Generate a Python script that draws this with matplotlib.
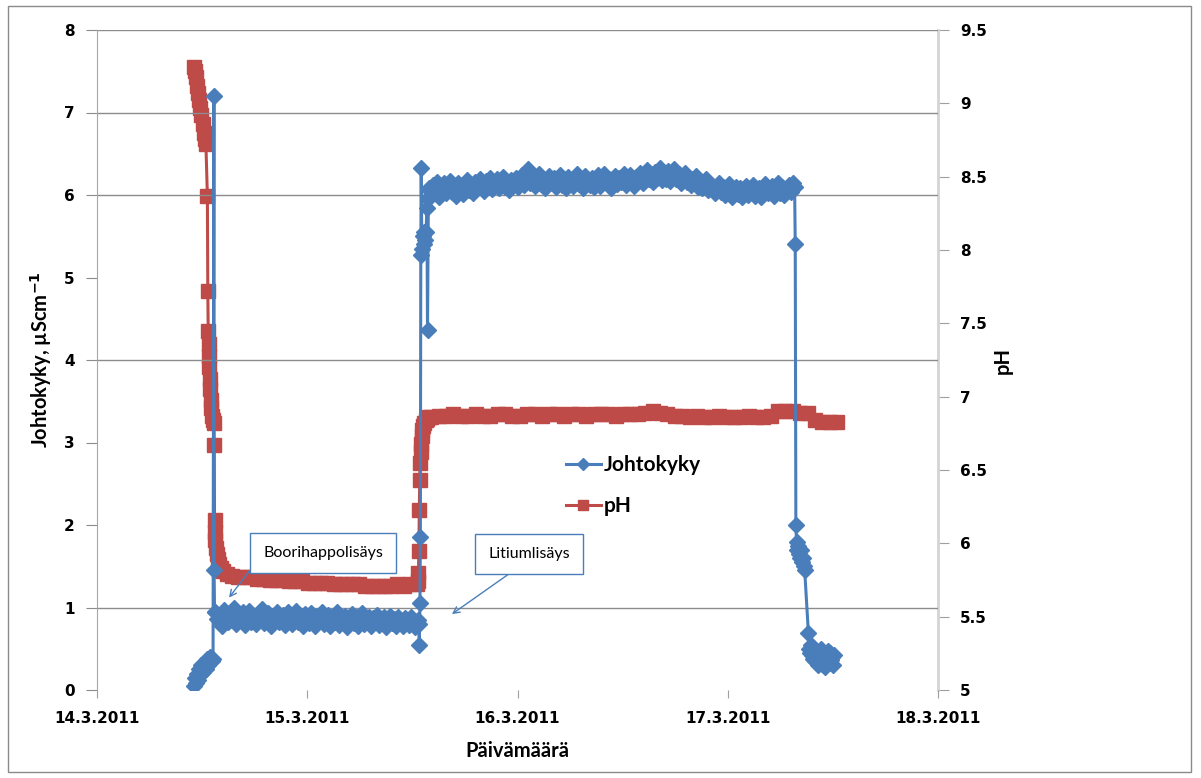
# Johtokyky ja pH ajan funktiona, boorihappo- ja litiumlisäys

import matplotlib
matplotlib.use('Agg')
import matplotlib.pyplot as plt
import matplotlib.dates as mdates
from matplotlib.ticker import FuncFormatter
from matplotlib.patches import Rectangle
import numpy as np
import pandas as pd

# Data (time = days since 14.3.2011 00:00)
start_date = pd.Timestamp('2011-03-14')

# Johtokyky, uS/cm
cond_start_t = [0.460, 0.466, 0.472, 0.477, 0.482, 0.487, 0.492, 0.497, 0.502, 0.507,
                0.512, 0.518, 0.524, 0.530, 0.538, 0.546, 0.552]
cond_start = [0.05, 0.15, 0.08, 0.2, 0.12, 0.25, 0.18, 0.3, 0.22, 0.28,
              0.34, 0.25, 0.38, 0.3, 0.4, 0.35, 0.38]
cond_boric_t = [0.556, 0.557, 0.559]
cond_boric = [7.2, 1.45, 0.95]
cond_low_range = (0.562, 1.525)
cond_low = [0.95, 0.86, 0.91, 0.78, 0.97, 0.88, 0.82, 0.93, 0.85, 0.99,
            0.8, 0.9, 0.87, 0.94, 0.79, 0.89, 0.96, 0.83, 0.88, 0.8,
            0.92, 0.86, 0.98, 0.81, 0.87, 0.93, 0.78, 0.9, 0.84, 0.95,
            0.82, 0.88, 0.91, 0.79, 0.94, 0.85, 0.8, 0.89, 0.96, 0.83,
            0.87, 0.78, 0.92, 0.86, 0.81, 0.93, 0.84, 0.77, 0.9, 0.85,
            0.95, 0.8, 0.86, 0.91, 0.78, 0.88, 0.83, 0.94, 0.79, 0.87,
            0.82, 0.9, 0.76, 0.85, 0.92, 0.81, 0.88, 0.78, 0.86, 0.93,
            0.8, 0.84, 0.89, 0.77, 0.87, 0.82, 0.91, 0.79, 0.85, 0.88,
            0.76, 0.83, 0.9, 0.81, 0.86, 0.78, 0.89, 0.82, 0.77, 0.87,
            0.84, 0.79, 0.88, 0.82, 0.76, 0.85]
cond_li_t = [1.530, 1.533, 1.536, 1.538, 1.540, 1.542, 1.545, 1.549, 1.553, 1.557,
             1.561, 1.565, 1.569, 1.572, 1.576, 1.580, 1.584]
cond_li = [0.8, 0.55, 1.05, 1.85, 5.27, 6.33, 5.35, 5.5, 5.4, 5.55,
           5.45, 5.55, 5.84, 4.36, 5.95, 6.08, 6.05]
cond_high_range = (1.588, 3.31)
cond_high = [6.0, 6.12, 6.05, 6.16, 5.98, 6.09, 6.14, 6.02, 6.1, 6.17,
             6.04, 6.11, 5.99, 6.15, 6.07, 6.01, 6.13, 6.18, 6.06, 6.1,
             6.03, 6.16, 6.09, 6.2, 6.11, 6.05, 6.17, 6.12, 6.21, 6.07,
             6.14, 6.19, 6.08, 6.16, 6.22, 6.1, 6.15, 6.06, 6.18, 6.13,
             6.21, 6.1, 6.17, 6.24, 6.12, 6.19, 6.32, 6.15, 6.22, 6.11,
             6.18, 6.25, 6.13, 6.2, 6.09, 6.16, 6.23, 6.14, 6.21, 6.1,
             6.17, 6.24, 6.12, 6.19, 6.08, 6.22, 6.15, 6.11, 6.2, 6.26,
             6.13, 6.18, 6.09, 6.23, 6.16, 6.12, 6.21, 6.1, 6.19, 6.24,
             6.11, 6.17, 6.25, 6.14, 6.2, 6.09, 6.18, 6.23, 6.13, 6.21,
             6.16, 6.26, 6.12, 6.19, 6.24, 6.15, 6.11, 6.22, 6.18, 6.27,
             6.14, 6.23, 6.3, 6.19, 6.25, 6.16, 6.28, 6.21, 6.33, 6.18,
             6.26, 6.2, 6.29, 6.17, 6.24, 6.31, 6.19, 6.25, 6.15, 6.22,
             6.27, 6.16, 6.21, 6.12, 6.19, 6.23, 6.1, 6.17, 6.08, 6.14,
             6.2, 6.06, 6.13, 6.09, 6.02, 6.11, 6.15, 6.04, 6.1, 6.0,
             6.07, 6.13, 5.98, 6.05, 6.1, 6.01, 6.08, 5.97, 6.04, 6.11,
             6.0, 6.06, 6.12, 5.99, 6.03, 6.09, 5.98, 6.07, 6.13, 6.02,
             6.05, 6.11, 5.99, 6.08, 6.14, 6.03, 6.1, 6.0, 6.07, 6.12,
             6.04, 6.15]
cond_end_t = [3.318, 3.321, 3.324, 3.327, 3.330, 3.334, 3.338, 3.342, 3.347, 3.352,
              3.357, 3.362, 3.366, 3.384, 3.388, 3.392, 3.397, 3.402, 3.407, 3.412,
              3.417, 3.422, 3.427, 3.432, 3.437, 3.442, 3.447, 3.452, 3.457, 3.462,
              3.467, 3.472, 3.477, 3.482, 3.487, 3.492, 3.497, 3.502, 3.507]
cond_end = [6.1, 5.4, 2.0, 1.8, 1.7, 1.75, 1.65, 1.6, 1.7, 1.55,
            1.6, 1.5, 1.45, 0.69, 0.5, 0.45, 0.55, 0.42, 0.38, 0.48,
            0.35, 0.42, 0.3, 0.45, 0.38, 0.5, 0.32, 0.42, 0.4, 0.28,
            0.44, 0.36, 0.47, 0.33, 0.45, 0.36, 0.4, 0.3, 0.42]

# pH
ph_start_t = [0.462, 0.467, 0.472, 0.477, 0.482, 0.487, 0.492, 0.497, 0.502, 0.507,
              0.512, 0.518, 0.525, 0.527, 0.529, 0.531, 0.533, 0.535, 0.537, 0.539,
              0.541, 0.544, 0.548, 0.552, 0.555, 0.557, 0.559, 0.561, 0.563, 0.566,
              0.570, 0.575, 0.580, 0.590, 0.600, 0.620, 0.640, 0.670]
ph_start = [9.25, 9.22, 9.18, 9.12, 9.07, 9.02, 8.97, 8.92, 8.86, 8.8,
            8.76, 8.72, 8.37, 7.72, 7.45, 7.36, 7.28, 7.2, 7.12, 7.05,
            6.98, 6.92, 6.87, 6.84, 6.82, 6.67, 6.16, 6.08, 6.02, 5.97,
            5.93, 5.89, 5.86, 5.83, 5.81, 5.79, 5.78, 5.77]
ph_low_range = (0.70, 1.52)
ph_low = [5.77, 5.77, 5.76, 5.76, 5.75, 5.75, 5.75, 5.74, 5.74, 5.74,
          5.73, 5.73, 5.73, 5.73, 5.72, 5.72, 5.72, 5.72, 5.72, 5.71,
          5.71, 5.71, 5.71, 5.71, 5.72, 5.71, 5.72, 5.72]
ph_li_t = [1.527, 1.529, 1.531, 1.533, 1.535, 1.537, 1.539, 1.541, 1.544, 1.548,
           1.552, 1.557, 1.563, 1.570, 1.580]
ph_li = [5.74, 5.8, 5.95, 6.23, 6.43, 6.55, 6.62, 6.68, 6.73, 6.77,
         6.8, 6.82, 6.84, 6.85, 6.86]
ph_high_range = (1.59, 3.52)
ph_high = [6.86, 6.87, 6.87, 6.88, 6.87, 6.87, 6.88, 6.87, 6.87, 6.88,
           6.88, 6.87, 6.87, 6.88, 6.88, 6.87, 6.88, 6.88, 6.87, 6.88,
           6.88, 6.87, 6.88, 6.88, 6.88, 6.87, 6.88, 6.88, 6.88, 6.89,
           6.9, 6.89, 6.88, 6.87, 6.87, 6.86, 6.87, 6.86, 6.86, 6.87,
           6.86, 6.86, 6.86, 6.87, 6.86, 6.86, 6.87, 6.9, 6.9, 6.9,
           6.89, 6.89, 6.84, 6.83, 6.83, 6.83]

x_ticks = ['2011-03-14', '2011-03-15', '2011-03-16', '2011-03-17', '2011-03-18']
grid_levels = [1, 4, 6, 7, 8]

BLUE = '#4a7ebb'
RED = '#be4b48'


def series(parts):
    # join typed segments; bands are (range, values) sampled evenly over range
    tt, vv = [], []
    for t, v in parts:
        if isinstance(t, tuple):
            t = np.linspace(t[0], t[1], len(v))
        tt.extend(t)
        vv.extend(v)
    return start_date + pd.to_timedelta(np.array(tt), unit='D'), np.array(vv)


cond_t, cond = series([(cond_start_t, cond_start), (cond_boric_t, cond_boric),
                       (cond_low_range, cond_low), (cond_li_t, cond_li),
                       (cond_high_range, cond_high), (cond_end_t, cond_end)])
ph_t, ph = series([(ph_start_t, ph_start), (ph_low_range, ph_low),
                   (ph_li_t, ph_li), (ph_high_range, ph_high)])

fig = plt.figure(figsize=(12.01, 7.78), dpi=100)
ax = fig.add_axes([97 / 1201, 1 - 690 / 778, 841 / 1201, 660 / 778])
ax2 = ax.twinx()
ax.set_zorder(ax2.get_zorder() + 1)
ax.patch.set_visible(False)

# outer chart border
fig.patches.append(Rectangle((8 / 1201, 6 / 778), 1183 / 1201, 766 / 778,
                             transform=fig.transFigure, fill=False,
                             edgecolor='#8a8a8a', linewidth=1))

for g in grid_levels:
    ax.axhline(g, color='#8c8c8c', linewidth=1, zorder=0)

l1, = ax.plot(cond_t, cond, color=BLUE, marker='D', markersize=8.5,
              linewidth=2.2, label='Johtokyky', zorder=3)
l2, = ax2.plot(ph_t, ph, color=RED, marker='s', markersize=9.5,
               linewidth=2.2, label='pH', zorder=2)

ax.set_xlim(pd.Timestamp(x_ticks[0]), pd.Timestamp(x_ticks[-1]))
ax.set_ylim(0, 8)
ax2.set_ylim(5, 9.5)
ax.set_xticks([pd.Timestamp(d) for d in x_ticks])
ax.xaxis.set_major_formatter(FuncFormatter(
    lambda v, p: '{0.day}.{0.month}.{0.year}'.format(mdates.num2date(v))))
ax2.set_yticks([5, 5.5, 6, 6.5, 7, 7.5, 8, 8.5, 9, 9.5])
ax2.set_yticklabels(['5', '5.5', '6', '6.5', '7', '7.5', '8', '8.5', '9', '9.5'])

tick_font = dict(family='DejaVu Sans', weight='bold', size=11)
for lab in ax.get_xticklabels() + ax.get_yticklabels() + ax2.get_yticklabels():
    lab.set_fontproperties(matplotlib.font_manager.FontProperties(**tick_font))

ax.tick_params(axis='y', length=8, color='#8c8c8c', pad=8)
ax.tick_params(axis='x', length=6, color='#a0a0a0', pad=9)
ax2.tick_params(axis='y', length=8, color='#a0a0a0', pad=8)

for a in (ax, ax2):
    a.spines['top'].set_visible(False)
    a.spines['bottom'].set_visible(False)
ax.spines['right'].set_visible(False)
ax2.spines['left'].set_visible(False)
ax.spines['left'].set_color('#a6a6a6')
ax2.spines['right'].set_color('#d4d4d4')
ax2.spines['right'].set_linewidth(2)

label_font = dict(family='Lato', weight='bold', size=14.5)
ax.set_ylabel(r'Johtokyky, µScm$^{\mathbf{-1}}$', labelpad=7, **label_font)
ax2.set_ylabel('pH', labelpad=4, **label_font)
ax.set_xlabel('Päivämäärä', labelpad=11, **label_font)

ax.legend(handles=[l1, l2], loc='center left', bbox_to_anchor=(0.535, 0.31),
          frameon=False, prop=dict(family='Lato', weight='bold', size=15),
          handlelength=1.7, handletextpad=0.15, labelspacing=1.0, markerscale=0.7)

# annotations
note_box = dict(boxstyle='square,pad=0.8', facecolor='white', edgecolor=BLUE, linewidth=1)
note_font = dict(family='Lato', size=11.5)
ax.annotate('Boorihappolisäys', xy=(start_date + pd.Timedelta(days=0.628), 1.12),
            xytext=(start_date + pd.Timedelta(days=1.075), 1.66),
            ha='center', va='center', bbox=note_box, zorder=5,
            arrowprops=dict(arrowstyle='->', color=BLUE, linewidth=1,
                            relpos=(0, 0.5), shrinkA=0, shrinkB=0), **note_font)
ax.annotate('Litiumlisäys', xy=(start_date + pd.Timedelta(days=1.688), 0.92),
            xytext=(start_date + pd.Timedelta(days=2.055), 1.65),
            ha='center', va='center', bbox=note_box, zorder=5,
            arrowprops=dict(arrowstyle='->', color=BLUE, linewidth=1,
                            relpos=(0.48, 0), shrinkA=0, shrinkB=0), **note_font)

plt.savefig('out.png', dpi=100)
